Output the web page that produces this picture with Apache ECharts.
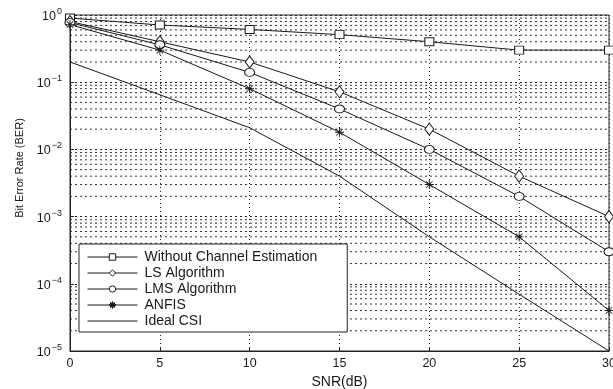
<!DOCTYPE html>
<html>
<head>
<meta charset="utf-8">
<script src="https://cdn.jsdelivr.net/npm/echarts@6/dist/echarts.min.js"></script>
<style>
  html, body { margin: 0; padding: 0; background: #fff; }
  #chart { width: 613px; height: 389px; }
</style>
</head>
<body>
<div id="chart"></div>
<script>
// SNR points (dB)
var snr = [0, 5, 10, 15, 20, 25, 30];
// BER values
var berNoEst = [0.90, 0.71, 0.61, 0.51, 0.40, 0.30, 0.30];
var berLS = [0.80, 0.40, 0.20, 0.072, 0.020, 0.004, 0.001];
var berLMS = [0.77, 0.36, 0.14, 0.040, 0.010, 0.002, 0.0003];
var berANFIS = [0.72, 0.30, 0.08, 0.018, 0.003, 0.0005, 0.00004];
var berIdeal = [0.20, 0.065, 0.021, 0.004, 0.0005, 0.00007, 0.00001];
var legendNames = ['Without Channel Estimation', 'LS Algorithm', 'LMS Algorithm', 'ANFIS', 'Ideal CSI'];
var xTicks = [0, 5, 10, 15, 20, 25, 30];

// minor log grid lines: 2..9 x 10^k, drawn as one broken line series
var minorGrid = [];
for (var k = -5; k < 0; k++) {
    for (var m = 2; m <= 9; m++) {
        var v = m * Math.pow(10, k);
        minorGrid.push([0, v], [30, v], [30, '-']);
    }
}

var ink = '#1a1a1a';
var font = 'Liberation Sans, Arial, sans-serif';
var star = 'path://M-0.6,-6L0.6,-6L0.6,6L-0.6,6Z M-6,-0.6L6,-0.6L6,0.6L-6,0.6Z ' +
    'M-4.7,-3.9L-3.9,-4.7L4.7,3.9L3.9,4.7Z M3.9,-4.7L4.7,-3.9L-3.9,4.7L-4.7,3.9Z';

function pairs(vals) {
    return snr.map(function (x, i) { return [x, vals[i]]; });
}

function mkSeries(name, vals, symbol, size, showSym) {
    return {
        name: name,
        type: 'line',
        data: pairs(vals),
        symbol: symbol,
        symbolSize: size,
        showSymbol: showSym,
        lineStyle: { color: ink, width: 1 },
        itemStyle: {
            color: symbol === star ? ink : '#fff',
            borderColor: ink,
            borderWidth: symbol === star ? 0 : 1
        },
        emphasis: { disabled: true },
        z: 5
    };
}

var chart = echarts.init(document.getElementById('chart'));

var option = {
    animation: false,
    textStyle: { fontFamily: font },
    grid: {
        left: 70, right: 4, top: 15, bottom: 38,
        outerBoundsMode: 'none',
        show: true, borderColor: '#222', borderWidth: 1, backgroundColor: '#fff'
    },
    legend: {
        data: legendNames.map(function (n, i) {
            return i === 4 ? { name: n, itemStyle: { opacity: 0 } } : { name: n };
        }),
        orient: 'vertical',
        left: 79, top: 244,
        padding: [6, 30, 4, 8],
        itemGap: 2,
        itemWidth: 50,
        itemHeight: 8,
        backgroundColor: '#fff',
        borderColor: '#222',
        borderWidth: 1,
        borderRadius: 0,
        lineStyle: { width: 1 },
        itemStyle: { borderWidth: 1 },
        textStyle: { fontSize: 14, color: ink, padding: [0, 0, 0, 2], fontFamily: font }
    },
    xAxis: {
        type: 'value',
        min: 0, max: 30, interval: 5,
        name: 'SNR(dB)',
        nameLocation: 'middle',
        nameGap: 22,
        nameTextStyle: { fontSize: 14, color: ink },
        axisLine: { show: true, lineStyle: { color: '#222' } },
        axisTick: { inside: true, length: 4, lineStyle: { color: '#222' } },
        axisLabel: {
            fontSize: 12.5, color: ink, margin: 6,
            formatter: function (v) { return xTicks.indexOf(v) >= 0 ? String(v) : ''; }
        },
        splitLine: { show: true, lineStyle: { color: '#222', type: [1, 3], width: 1 } }
    },
    yAxis: {
        type: 'log',
        logBase: 10,
        min: 1e-5, max: 1,
        name: 'Bit Error Rate (BER)',
        nameLocation: 'middle',
        nameGap: 38,
        nameTextStyle: { fontSize: 11, color: ink, padding: [0, 0, 0, 30] },
        axisLine: { show: true, lineStyle: { color: '#222' } },
        axisTick: { inside: true, length: 4, lineStyle: { color: '#222' } },
        axisLabel: {
            color: ink, margin: 8,
            formatter: function (v) {
                var e = Math.round(Math.log10(v));
                return '{b|10}{e|' + (e < 0 ? '\u2212' + (-e) : e) + '}';
            },
            rich: {
                b: { fontSize: 12.5, color: ink, verticalAlign: 'bottom', lineHeight: 16 },
                e: { fontSize: 9, color: ink, verticalAlign: 'top', lineHeight: 16, padding: [0, 0, 0, 1] }
            }
        },
        splitLine: { show: true, lineStyle: { color: '#222', type: [2, 3], width: 1 } }
    },
    series: [
        {
            name: 'minor-grid',
            type: 'line',
            data: minorGrid,
            silent: true,
            showSymbol: false,
            symbol: 'none',
            connectNulls: false,
            lineStyle: { color: '#333', type: [2, 3], width: 1 },
            emphasis: { disabled: true },
            z: 1
        },
        mkSeries(legendNames[0], berNoEst, 'rect', [9, 8], true),
        mkSeries(legendNames[1], berLS, 'diamond', [9, 12], true),
        mkSeries(legendNames[2], berLMS, 'circle', [10, 8], true),
        mkSeries(legendNames[3], berANFIS, star, 9, true),
        mkSeries(legendNames[4], berIdeal, 'circle', 0, false)
    ]
};

chart.setOption(option);
</script>
</body>
</html>
